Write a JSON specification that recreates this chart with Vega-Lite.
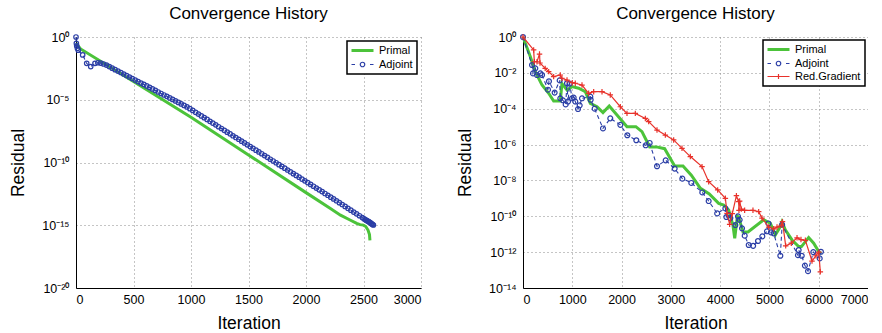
{
"$schema": "https://vega.github.io/schema/vega-lite/v6.json",
"padding": {"left": 9, "top": 5, "right": 0, "bottom": 0},
"spacing": 35,
"datasets": {
"left": [
{"series":"Primal","iteration":0,"residual":0.316},{"series":"Primal","iteration":40,"residual":0.112},{"series":"Primal","iteration":500,"residual":2.82e-4},{"series":"Primal","iteration":1000,"residual":3.98e-7},{"series":"Primal","iteration":1500,"residual":3.98e-10},{"series":"Primal","iteration":2000,"residual":3.98e-13},{"series":"Primal","iteration":2209,"residual":2.24e-14},{"series":"Primal","iteration":2300,"residual":6.31e-15},{"series":"Primal","iteration":2383,"residual":2.63e-15},{"series":"Primal","iteration":2441,"residual":1.41e-15},{"series":"Primal","iteration":2470,"residual":1.12e-15},{"series":"Primal","iteration":2499,"residual":1.02e-15},{"series":"Primal","iteration":2520,"residual":7.94e-16},{"series":"Primal","iteration":2540,"residual":3.98e-16},{"series":"Primal","iteration":2552,"residual":1.78e-16},{"series":"Primal","iteration":2556,"residual":6.31e-17},
{"series":"Adjoint","iteration":0,"residual":1},{"series":"Adjoint","iteration":3,"residual":0.316},{"series":"Adjoint","iteration":6,"residual":0.2},{"series":"Adjoint","iteration":12,"residual":0.126},{"series":"Adjoint","iteration":20,"residual":0.0891},{"series":"Adjoint","iteration":58,"residual":0.0372},{"series":"Adjoint","iteration":93,"residual":0.00794},{"series":"Adjoint","iteration":128,"residual":0.00437},{"series":"Adjoint","iteration":165,"residual":0.00794},{"series":"Adjoint","iteration":190,"residual":0.00891},{"series":"Adjoint","iteration":215,"residual":0.00832},{"series":"Adjoint","iteration":240,"residual":0.00708},{"series":"Adjoint","iteration":265,"residual":0.00575},{"series":"Adjoint","iteration":290,"residual":0.00437},{"series":"Adjoint","iteration":315,"residual":0.00331},{"series":"Adjoint","iteration":340,"residual":0.00251},{"series":"Adjoint","iteration":365,"residual":0.00191},{"series":"Adjoint","iteration":390,"residual":0.00148},{"series":"Adjoint","iteration":415,"residual":0.00112},{"series":"Adjoint","iteration":440,"residual":8.51e-4},{"series":"Adjoint","iteration":465,"residual":6.46e-4},{"series":"Adjoint","iteration":490,"residual":4.9e-4},{"series":"Adjoint","iteration":515,"residual":3.72e-4},{"series":"Adjoint","iteration":540,"residual":2.82e-4},{"series":"Adjoint","iteration":565,"residual":2.14e-4},{"series":"Adjoint","iteration":590,"residual":1.66e-4},{"series":"Adjoint","iteration":615,"residual":1.26e-4},{"series":"Adjoint","iteration":640,"residual":9.55e-5},{"series":"Adjoint","iteration":665,"residual":7.24e-5},{"series":"Adjoint","iteration":690,"residual":5.5e-5},{"series":"Adjoint","iteration":715,"residual":4.17e-5},{"series":"Adjoint","iteration":740,"residual":3.16e-5},{"series":"Adjoint","iteration":765,"residual":2.4e-5},{"series":"Adjoint","iteration":790,"residual":1.86e-5},{"series":"Adjoint","iteration":815,"residual":1.41e-5},{"series":"Adjoint","iteration":840,"residual":1.07e-5},{"series":"Adjoint","iteration":865,"residual":8.13e-6},{"series":"Adjoint","iteration":890,"residual":6.17e-6},{"series":"Adjoint","iteration":915,"residual":4.68e-6},{"series":"Adjoint","iteration":940,"residual":3.55e-6},{"series":"Adjoint","iteration":965,"residual":2.69e-6},{"series":"Adjoint","iteration":990,"residual":1.95e-6},{"series":"Adjoint","iteration":1015,"residual":1.41e-6},{"series":"Adjoint","iteration":1040,"residual":1e-6},{"series":"Adjoint","iteration":1065,"residual":7.24e-7},{"series":"Adjoint","iteration":1090,"residual":5.13e-7},{"series":"Adjoint","iteration":1115,"residual":3.72e-7},{"series":"Adjoint","iteration":1140,"residual":2.69e-7},{"series":"Adjoint","iteration":1165,"residual":1.91e-7},{"series":"Adjoint","iteration":1190,"residual":1.38e-7},{"series":"Adjoint","iteration":1215,"residual":1e-7},{"series":"Adjoint","iteration":1240,"residual":7.08e-8},{"series":"Adjoint","iteration":1265,"residual":5.13e-8},{"series":"Adjoint","iteration":1290,"residual":3.63e-8},{"series":"Adjoint","iteration":1315,"residual":2.63e-8},{"series":"Adjoint","iteration":1340,"residual":1.91e-8},{"series":"Adjoint","iteration":1365,"residual":1.35e-8},{"series":"Adjoint","iteration":1390,"residual":9.77e-9},{"series":"Adjoint","iteration":1415,"residual":7.08e-9},{"series":"Adjoint","iteration":1440,"residual":5.01e-9},{"series":"Adjoint","iteration":1465,"residual":3.63e-9},{"series":"Adjoint","iteration":1490,"residual":2.57e-9},{"series":"Adjoint","iteration":1515,"residual":1.86e-9},{"series":"Adjoint","iteration":1540,"residual":1.35e-9},{"series":"Adjoint","iteration":1565,"residual":9.55e-10},{"series":"Adjoint","iteration":1590,"residual":6.92e-10},{"series":"Adjoint","iteration":1615,"residual":5.01e-10},{"series":"Adjoint","iteration":1640,"residual":3.55e-10},{"series":"Adjoint","iteration":1665,"residual":2.57e-10},{"series":"Adjoint","iteration":1690,"residual":1.82e-10},{"series":"Adjoint","iteration":1715,"residual":1.32e-10},{"series":"Adjoint","iteration":1740,"residual":9.55e-11},{"series":"Adjoint","iteration":1765,"residual":6.76e-11},{"series":"Adjoint","iteration":1790,"residual":4.9e-11},{"series":"Adjoint","iteration":1815,"residual":3.55e-11},{"series":"Adjoint","iteration":1840,"residual":2.51e-11},{"series":"Adjoint","iteration":1865,"residual":1.82e-11},{"series":"Adjoint","iteration":1890,"residual":1.29e-11},{"series":"Adjoint","iteration":1915,"residual":9.33e-12},{"series":"Adjoint","iteration":1940,"residual":6.76e-12},{"series":"Adjoint","iteration":1965,"residual":4.79e-12},{"series":"Adjoint","iteration":1990,"residual":3.47e-12},{"series":"Adjoint","iteration":2015,"residual":2.51e-12},{"series":"Adjoint","iteration":2040,"residual":1.78e-12},{"series":"Adjoint","iteration":2065,"residual":1.29e-12},{"series":"Adjoint","iteration":2090,"residual":9.12e-13},{"series":"Adjoint","iteration":2115,"residual":6.61e-13},{"series":"Adjoint","iteration":2140,"residual":4.79e-13},{"series":"Adjoint","iteration":2165,"residual":3.39e-13},{"series":"Adjoint","iteration":2190,"residual":2.45e-13},{"series":"Adjoint","iteration":2215,"residual":1.74e-13},{"series":"Adjoint","iteration":2240,"residual":1.26e-13},{"series":"Adjoint","iteration":2265,"residual":8.91e-14},{"series":"Adjoint","iteration":2290,"residual":6.31e-14},{"series":"Adjoint","iteration":2315,"residual":4.47e-14},{"series":"Adjoint","iteration":2340,"residual":3.16e-14},{"series":"Adjoint","iteration":2365,"residual":2.24e-14},{"series":"Adjoint","iteration":2390,"residual":1.58e-14},{"series":"Adjoint","iteration":2415,"residual":1.12e-14},{"series":"Adjoint","iteration":2440,"residual":8.13e-15},{"series":"Adjoint","iteration":2465,"residual":5.75e-15},{"series":"Adjoint","iteration":2490,"residual":4.07e-15},{"series":"Adjoint","iteration":2505,"residual":3.31e-15},{"series":"Adjoint","iteration":2515,"residual":2.88e-15},{"series":"Adjoint","iteration":2525,"residual":2.51e-15},{"series":"Adjoint","iteration":2532,"residual":2.29e-15},{"series":"Adjoint","iteration":2540,"residual":2.04e-15},{"series":"Adjoint","iteration":2547,"residual":1.86e-15},{"series":"Adjoint","iteration":2554,"residual":1.7e-15},{"series":"Adjoint","iteration":2561,"residual":1.55e-15},{"series":"Adjoint","iteration":2568,"residual":1.38e-15},{"series":"Adjoint","iteration":2574,"residual":1.26e-15},{"series":"Adjoint","iteration":2580,"residual":1.15e-15},{"series":"Adjoint","iteration":2586,"residual":1.05e-15}
],
"right": [
{"series":"Primal","iteration":0,"residual":1},{"series":"Primal","iteration":149,"residual":0.0794},{"series":"Primal","iteration":250,"residual":0.0117},{"series":"Primal","iteration":386,"residual":0.00209},{"series":"Primal","iteration":521,"residual":7.24e-4},{"series":"Primal","iteration":622,"residual":2.69e-4},{"series":"Primal","iteration":757,"residual":2.69e-4},{"series":"Primal","iteration":790,"residual":0.00251},{"series":"Primal","iteration":893,"residual":0.00112},{"series":"Primal","iteration":994,"residual":0.0017},{"series":"Primal","iteration":1129,"residual":0.00138},{"series":"Primal","iteration":1264,"residual":8.91e-4},{"series":"Primal","iteration":1366,"residual":2.0e-4},{"series":"Primal","iteration":1502,"residual":1.29e-4},{"series":"Primal","iteration":1623,"residual":6.03e-5},{"series":"Primal","iteration":1750,"residual":1.41e-4},{"series":"Primal","iteration":1907,"residual":4.47e-5},{"series":"Primal","iteration":2110,"residual":1.0e-5},{"series":"Primal","iteration":2290,"residual":1.0e-5},{"series":"Primal","iteration":2414,"residual":5.25e-6},{"series":"Primal","iteration":2502,"residual":1.74e-6},{"series":"Primal","iteration":2570,"residual":7.41e-7},{"series":"Primal","iteration":2705,"residual":7.41e-7},{"series":"Primal","iteration":2874,"residual":5.89e-7},{"series":"Primal","iteration":3077,"residual":6.46e-8},{"series":"Primal","iteration":3246,"residual":6.46e-8},{"series":"Primal","iteration":3415,"residual":1.95e-8},{"series":"Primal","iteration":3600,"residual":3.63e-9},{"series":"Primal","iteration":3780,"residual":1.74e-9},{"series":"Primal","iteration":3970,"residual":5.25e-10},{"series":"Primal","iteration":4072,"residual":4.27e-10},{"series":"Primal","iteration":4174,"residual":2.24e-10},{"series":"Primal","iteration":4260,"residual":3.16e-11},{"series":"Primal","iteration":4296,"residual":5.89e-12},{"series":"Primal","iteration":4350,"residual":1.0e-10},{"series":"Primal","iteration":4376,"residual":8.91e-11},{"series":"Primal","iteration":4464,"residual":1.32e-11},{"series":"Primal","iteration":4565,"residual":1.32e-11},{"series":"Primal","iteration":4884,"residual":6.31e-11},{"series":"Primal","iteration":5019,"residual":4.07e-11},{"series":"Primal","iteration":5120,"residual":9.12e-12},{"series":"Primal","iteration":5201,"residual":2.14e-11},{"series":"Primal","iteration":5255,"residual":5.01e-11},{"series":"Primal","iteration":5322,"residual":1.74e-11},{"series":"Primal","iteration":5458,"residual":4.79e-12},{"series":"Primal","iteration":5593,"residual":2.04e-12},{"series":"Primal","iteration":5650,"residual":2.04e-12},{"series":"Primal","iteration":5796,"residual":6.46e-12},{"series":"Primal","iteration":5898,"residual":3.16e-12},{"series":"Primal","iteration":6000,"residual":1.07e-12},{"series":"Primal","iteration":6050,"residual":7.94e-13},
{"series":"Adjoint","iteration":0,"residual":1},{"series":"Adjoint","iteration":183,"residual":0.0275},{"series":"Adjoint","iteration":203,"residual":0.00933},{"series":"Adjoint","iteration":250,"residual":0.0178},{"series":"Adjoint","iteration":284,"residual":0.00759},{"series":"Adjoint","iteration":352,"residual":0.00933},{"series":"Adjoint","iteration":386,"residual":0.00759},{"series":"Adjoint","iteration":507,"residual":0.00115},{"series":"Adjoint","iteration":527,"residual":0.00339},{"series":"Adjoint","iteration":642,"residual":7.94e-4},{"series":"Adjoint","iteration":744,"residual":0.0038},{"series":"Adjoint","iteration":757,"residual":3.8e-4},{"series":"Adjoint","iteration":811,"residual":2.95e-4},{"series":"Adjoint","iteration":866,"residual":1.74e-4},{"series":"Adjoint","iteration":893,"residual":0.00263},{"series":"Adjoint","iteration":913,"residual":2.51e-4},{"series":"Adjoint","iteration":947,"residual":0.00251},{"series":"Adjoint","iteration":994,"residual":3.8e-4},{"series":"Adjoint","iteration":1028,"residual":4.17e-4},{"series":"Adjoint","iteration":1061,"residual":2.51e-4},{"series":"Adjoint","iteration":1116,"residual":9.55e-5},{"series":"Adjoint","iteration":1150,"residual":1.55e-4},{"series":"Adjoint","iteration":1197,"residual":3.8e-4},{"series":"Adjoint","iteration":1366,"residual":4.68e-4},{"series":"Adjoint","iteration":1373,"residual":3.16e-4},{"series":"Adjoint","iteration":1454,"residual":1.0e-4},{"series":"Adjoint","iteration":1623,"residual":7.94e-6},{"series":"Adjoint","iteration":1771,"residual":2.88e-5},{"series":"Adjoint","iteration":1975,"residual":1.26e-5},{"series":"Adjoint","iteration":2117,"residual":3.31e-6},{"series":"Adjoint","iteration":2299,"residual":1.74e-6},{"series":"Adjoint","iteration":2489,"residual":9.12e-7},{"series":"Adjoint","iteration":2570,"residual":1.23e-6},{"series":"Adjoint","iteration":2719,"residual":6.17e-8},{"series":"Adjoint","iteration":2895,"residual":1.32e-7},{"series":"Adjoint","iteration":3077,"residual":4.57e-8},{"series":"Adjoint","iteration":3233,"residual":1.26e-8},{"series":"Adjoint","iteration":3415,"residual":7.24e-9},{"series":"Adjoint","iteration":3638,"residual":2.14e-9},{"series":"Adjoint","iteration":3767,"residual":7.08e-10},{"series":"Adjoint","iteration":3940,"residual":1.45e-10},{"series":"Adjoint","iteration":4106,"residual":2.75e-10},{"series":"Adjoint","iteration":4126,"residual":9.12e-11},{"series":"Adjoint","iteration":4174,"residual":1.17e-10},{"series":"Adjoint","iteration":4207,"residual":7.94e-11},{"series":"Adjoint","iteration":4309,"residual":3.24e-11},{"series":"Adjoint","iteration":4362,"residual":1.0e-10},{"series":"Adjoint","iteration":4396,"residual":6.31e-11},{"series":"Adjoint","iteration":4444,"residual":2.14e-11},{"series":"Adjoint","iteration":4498,"residual":8.32e-12},{"series":"Adjoint","iteration":4580,"residual":2.51e-12},{"series":"Adjoint","iteration":4670,"residual":2.24e-12},{"series":"Adjoint","iteration":4768,"residual":4.17e-12},{"series":"Adjoint","iteration":4856,"residual":7.59e-12},{"series":"Adjoint","iteration":4950,"residual":1.45e-11},{"series":"Adjoint","iteration":4980,"residual":3.98e-11},{"series":"Adjoint","iteration":5030,"residual":1.26e-11},{"series":"Adjoint","iteration":5086,"residual":1.12e-11},{"series":"Adjoint","iteration":5221,"residual":6.31e-13},{"series":"Adjoint","iteration":5258,"residual":3.39e-11},{"series":"Adjoint","iteration":5579,"residual":6.76e-13},{"series":"Adjoint","iteration":5593,"residual":1.32e-12},{"series":"Adjoint","iteration":5655,"residual":6.31e-13},{"series":"Adjoint","iteration":5720,"residual":1.78e-13},{"series":"Adjoint","iteration":5783,"residual":8.71e-14},{"series":"Adjoint","iteration":5890,"residual":1.0e-12},{"series":"Adjoint","iteration":6020,"residual":4.47e-13},{"series":"Adjoint","iteration":6045,"residual":1.05e-12},
{"series":"Red.Gradient","iteration":0,"residual":1},{"series":"Red.Gradient","iteration":216,"residual":0.191},{"series":"Red.Gradient","iteration":230,"residual":0.0417},{"series":"Red.Gradient","iteration":284,"residual":0.0417},{"series":"Red.Gradient","iteration":335,"residual":0.112},{"series":"Red.Gradient","iteration":345,"residual":0.0355},{"series":"Red.Gradient","iteration":450,"residual":0.0178},{"series":"Red.Gradient","iteration":521,"residual":0.0117},{"series":"Red.Gradient","iteration":622,"residual":0.00617},{"series":"Red.Gradient","iteration":757,"residual":0.00759},{"series":"Red.Gradient","iteration":790,"residual":0.00501},{"series":"Red.Gradient","iteration":893,"residual":0.00398},{"series":"Red.Gradient","iteration":1000,"residual":0.00282},{"series":"Red.Gradient","iteration":1061,"residual":0.00263},{"series":"Red.Gradient","iteration":1197,"residual":0.00209},{"series":"Red.Gradient","iteration":1332,"residual":7.24e-4},{"series":"Red.Gradient","iteration":1434,"residual":8.91e-4},{"series":"Red.Gradient","iteration":1603,"residual":8.91e-4},{"series":"Red.Gradient","iteration":1771,"residual":5.89e-4},{"series":"Red.Gradient","iteration":1975,"residual":1.29e-4},{"series":"Red.Gradient","iteration":2110,"residual":5.5e-5},{"series":"Red.Gradient","iteration":2279,"residual":5.5e-5},{"series":"Red.Gradient","iteration":2482,"residual":2.88e-5},{"series":"Red.Gradient","iteration":2550,"residual":1.91e-5},{"series":"Red.Gradient","iteration":2719,"residual":6.46e-6},{"series":"Red.Gradient","iteration":2888,"residual":3.39e-6},{"series":"Red.Gradient","iteration":3057,"residual":1.82e-6},{"series":"Red.Gradient","iteration":3226,"residual":6.17e-7},{"series":"Red.Gradient","iteration":3395,"residual":2.14e-7},{"series":"Red.Gradient","iteration":3632,"residual":5.89e-8},{"series":"Red.Gradient","iteration":3767,"residual":8.51e-9},{"series":"Red.Gradient","iteration":3950,"residual":2.95e-9},{"series":"Red.Gradient","iteration":4106,"residual":1.0e-9},{"series":"Red.Gradient","iteration":4140,"residual":1.45e-10},{"series":"Red.Gradient","iteration":4193,"residual":3.55e-11},{"series":"Red.Gradient","iteration":4247,"residual":1.41e-10},{"series":"Red.Gradient","iteration":4330,"residual":1.41e-9},{"series":"Red.Gradient","iteration":4376,"residual":6.61e-10},{"series":"Red.Gradient","iteration":4382,"residual":2.14e-10},{"series":"Red.Gradient","iteration":4396,"residual":7.08e-10},{"series":"Red.Gradient","iteration":4430,"residual":2.51e-10},{"series":"Red.Gradient","iteration":4497,"residual":2.14e-10},{"series":"Red.Gradient","iteration":4666,"residual":2.14e-10},{"series":"Red.Gradient","iteration":4782,"residual":1.82e-10},{"series":"Red.Gradient","iteration":4849,"residual":7.94e-11},{"series":"Red.Gradient","iteration":4985,"residual":2.51e-11},{"series":"Red.Gradient","iteration":5086,"residual":2.0e-11},{"series":"Red.Gradient","iteration":5154,"residual":2.51e-11},{"series":"Red.Gradient","iteration":5241,"residual":3.16e-11},{"series":"Red.Gradient","iteration":5265,"residual":5.01e-11},{"series":"Red.Gradient","iteration":5330,"residual":2.24e-12},{"series":"Red.Gradient","iteration":5444,"residual":3.16e-12},{"series":"Red.Gradient","iteration":5560,"residual":6.31e-12},{"series":"Red.Gradient","iteration":5640,"residual":5.01e-12},{"series":"Red.Gradient","iteration":5729,"residual":4.57e-12},{"series":"Red.Gradient","iteration":5864,"residual":3.16e-13},{"series":"Red.Gradient","iteration":5945,"residual":6.31e-13},{"series":"Red.Gradient","iteration":6000,"residual":1.0e-12},{"series":"Red.Gradient","iteration":6033,"residual":7.94e-14}
]
},
"resolve": {"scale": {"x": "independent", "y": "independent", "color": "independent"}, "legend": {"color": "independent"}},
"hconcat": [
{
"width": 345, "height": 251,
"title": "Convergence History",
"data": {"name": "left"},
"encoding": {
"x": {"field": "iteration", "type": "quantitative", "scale": {"domain": [0, 3000], "nice": false, "zero": false},
 "axis": {"values": [0, 500, 1000, 1500, 2000, 2500, 3000], "title": "Iteration", "format": "d"}},
"y": {"field": "residual", "type": "quantitative", "scale": {"type": "log", "domain": [1e-20, 1], "nice": false},
 "axis": {"values": [1, 1e-5, 1e-10, 1e-15, 1e-20], "title": "Residual", "labelPadding": 7, "titlePadding": 14,
 "labelExpr": "'10' + replace(replace(replace(replace(replace(replace(replace(replace(replace(replace(replace(toString(round(log(datum.value)/LN10)), regexp('-','g'), '⁻'), regexp('0','g'), '⁰'), regexp('1','g'), '¹'), regexp('2','g'), '²'), regexp('3','g'), '³'), regexp('4','g'), '⁴'), regexp('5','g'), '⁵'), regexp('6','g'), '⁶'), regexp('7','g'), '⁷'), regexp('8','g'), '⁸'), regexp('9','g'), '⁹')"}}
},
"layer": [
{"transform": [{"filter": "datum.series === 'Primal'"}],
 "mark": {"type": "line", "strokeWidth": 3},
 "encoding": {"color": {"field": "series", "type": "nominal", "scale": {"domain": ["Primal", "Adjoint"], "range": ["#4cc33a", "#2b3ea6"]},
  "legend": {"orient": "top-right", "offset": 4, "title": null, "fillColor": "white", "strokeColor": "black", "padding": 4, "rowPadding": 1,
   "symbolSize": 100, "labelFontSize": 11, "labelOffset": 17, "labelColor": "black",
   "encode": {"legend": {"update": {"strokeWidth": {"value": 1.5}}},
    "symbols": {"update": {
     "shape": {"signal": "datum.value === 'Primal' ? 'M-1,0L3.4,0' : datum.value === 'Adjoint' ? 'M-1,0L-0.3,0M2.7,0L3.4,0M1.65,0A0.45,0.45,0,1,1,0.75,0A0.45,0.45,0,1,1,1.65,0' : 'M-1,0L3.4,0M1.2,-0.5L1.2,0.5M0.7,0L1.7,0'"},
     "stroke": {"signal": "datum.value === 'Primal' ? '#4cc33a' : datum.value === 'Adjoint' ? '#2b3ea6' : '#e8322b'"},
     "strokeWidth": {"signal": "datum.value === 'Primal' ? 3 : 1.2"},
     "strokeDash": {"value": []},
     "fill": {"value": "transparent"},
     "opacity": {"value": 1}}}}}}}},
{"transform": [{"filter": "datum.series === 'Adjoint'"}],
 "mark": {"type": "line", "strokeWidth": 1.1, "strokeDash": [4, 3]},
 "encoding": {"color": {"field": "series", "type": "nominal"}}},
{"transform": [{"filter": "datum.series === 'Adjoint'"}],
 "mark": {"type": "point", "shape": "circle", "filled": false, "size": 20, "strokeWidth": 1.2, "opacity": 1},
 "encoding": {"color": {"field": "series", "type": "nominal"}}}
]
},
{
"width": 345, "height": 251,
"title": "Convergence History",
"data": {"name": "right"},
"encoding": {
"x": {"field": "iteration", "type": "quantitative", "scale": {"domain": [0, 7000], "nice": false, "zero": false},
 "axis": {"values": [0, 1000, 2000, 3000, 4000, 5000, 6000, 7000], "title": "Iteration", "format": "d"}},
"y": {"field": "residual", "type": "quantitative", "scale": {"type": "log", "domain": [1e-14, 1], "nice": false},
 "axis": {"values": [1, 1e-2, 1e-4, 1e-6, 1e-8, 1e-10, 1e-12, 1e-14], "title": "Residual", "labelPadding": 7, "titlePadding": 14,
 "labelExpr": "'10' + replace(replace(replace(replace(replace(replace(replace(replace(replace(replace(replace(toString(round(log(datum.value)/LN10)), regexp('-','g'), '⁻'), regexp('0','g'), '⁰'), regexp('1','g'), '¹'), regexp('2','g'), '²'), regexp('3','g'), '³'), regexp('4','g'), '⁴'), regexp('5','g'), '⁵'), regexp('6','g'), '⁶'), regexp('7','g'), '⁷'), regexp('8','g'), '⁸'), regexp('9','g'), '⁹')"}}
},
"layer": [
{"transform": [{"filter": "datum.series === 'Primal'"}],
 "mark": {"type": "line", "strokeWidth": 3},
 "encoding": {"color": {"field": "series", "type": "nominal", "scale": {"domain": ["Primal", "Adjoint", "Red.Gradient"], "range": ["#4cc33a", "#2b3ea6", "#e8322b"]},
  "legend": {"orient": "top-right", "offset": 3, "title": null, "fillColor": "white", "strokeColor": "black", "padding": 4, "rowPadding": 1,
   "symbolSize": 100, "labelFontSize": 11, "labelOffset": 17, "labelColor": "black",
   "encode": {"legend": {"update": {"strokeWidth": {"value": 1.5}}},
    "symbols": {"update": {
     "shape": {"signal": "datum.value === 'Primal' ? 'M-1,0L3.4,0' : datum.value === 'Adjoint' ? 'M-1,0L-0.3,0M2.7,0L3.4,0M1.65,0A0.45,0.45,0,1,1,0.75,0A0.45,0.45,0,1,1,1.65,0' : 'M-1,0L3.4,0M1.2,-0.5L1.2,0.5M0.7,0L1.7,0'"},
     "stroke": {"signal": "datum.value === 'Primal' ? '#4cc33a' : datum.value === 'Adjoint' ? '#2b3ea6' : '#e8322b'"},
     "strokeWidth": {"signal": "datum.value === 'Primal' ? 3 : 1.2"},
     "strokeDash": {"value": []},
     "fill": {"value": "transparent"},
     "opacity": {"value": 1}}}}}}}},
{"transform": [{"filter": "datum.series === 'Adjoint'"}],
 "mark": {"type": "line", "strokeWidth": 1.1, "strokeDash": [4, 3]},
 "encoding": {"color": {"field": "series", "type": "nominal"}}},
{"transform": [{"filter": "datum.series === 'Adjoint'"}],
 "mark": {"type": "point", "shape": "circle", "filled": false, "size": 24, "strokeWidth": 1.2, "opacity": 1},
 "encoding": {"color": {"field": "series", "type": "nominal"}}},
{"transform": [{"filter": "datum.series === 'Red.Gradient'"}],
 "mark": {"type": "line", "strokeWidth": 1.2},
 "encoding": {"color": {"field": "series", "type": "nominal"}}},
{"transform": [{"filter": "datum.series === 'Red.Gradient'"}],
 "mark": {"type": "point", "shape": "M-1,0L1,0M0,-1L0,1", "filled": false, "size": 30, "strokeWidth": 1.2, "opacity": 1},
 "encoding": {"color": {"field": "series", "type": "nominal"}}}
]
}
],
"config": {
"font": "Liberation Sans",
"view": {"stroke": null},
"title": {"font": "Liberation Sans", "fontSize": 17, "fontWeight": "normal", "color": "black", "offset": 8},
"axis": {"labelFont": "Liberation Sans", "titleFont": "Liberation Sans", "labelFontSize": 12.5, "titleFontSize": 17.5, "titleFontWeight": "normal",
 "labelColor": "black", "titleColor": "black", "domainColor": "black", "domainWidth": 1, "ticks": false, "labelPadding": 5, "titlePadding": 9,
 "grid": true, "gridColor": "#8a8a8a", "gridDash": [1, 3], "gridWidth": 1, "gridOpacity": 1},
"legend": {"labelFont": "Liberation Sans"}
}
}
